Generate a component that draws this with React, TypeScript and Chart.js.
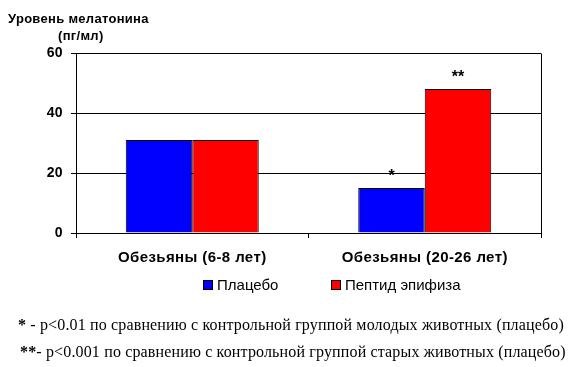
import React, { useEffect, useRef } from "react";
import { Chart, registerables } from "chart.js";

Chart.register(...registerables);

const categories = ["Обезьяны (6-8 лет)", "Обезьяны (20-26 лет)"];
const placebo = [31, 15];
const peptide = [31, 48];
const seriesNames = ["Плацебо", "Пептид эпифиза"];
const yTicks = [0, 20, 40, 60];
// significance marks: [datasetIndex, categoryIndex, text]
const marks: [number, number, string][] = [
  [0, 1, "*"],
  [1, 1, "**"],
];
const axisTitle = ["Уровень мелатонина", "(пг/мл)"];
const footnotes = [
  ["*", " - p<0.01 по сравнению с контрольной группой молодых животных (плацебо)"],
  ["**", "- p<0.001 по сравнению с контрольной группой старых животных (плацебо)"],
];

const BLUE = "#0000ff";
const RED = "#ff0000";
const SANS = "Arial, 'Liberation Sans', sans-serif";
const SERIF = "'Times New Roman', 'Liberation Serif', serif";

export default function App() {
  const ref = useRef<HTMLCanvasElement | null>(null);

  useEffect(() => {
    if (!ref.current) return;
    const markPlugin = {
      id: "marks",
      beforeDraw(chart: any) {
        chart.ctx.letterSpacing = "0.4px";
      },
      afterDatasetsDraw(chart: any) {
        const ctx = chart.ctx;
        const { top, right, bottom } = chart.chartArea;
        ctx.save();
        ctx.strokeStyle = "#000";
        ctx.lineWidth = 1;
        ctx.beginPath();
        ctx.moveTo(Math.round(right) + 0.5, Math.round(top) + 0.5);
        ctx.lineTo(Math.round(right) + 0.5, Math.round(bottom) + 0.5);
        ctx.stroke();
        ctx.fillStyle = "#000";
        ctx.letterSpacing = "0px";
        ctx.font = `bold 16px ${SANS}`;
        ctx.textAlign = "center";
        ctx.textBaseline = "alphabetic";
        for (const [ds, idx, txt] of marks) {
          const el = chart.getDatasetMeta(ds).data[idx];
          ctx.fillText(txt, el.x, el.y - 7);
        }
        ctx.restore();
      },
      afterDraw(chart: any) {
        chart.ctx.letterSpacing = "0px";
      },
    };
    const chart = new Chart(ref.current, {
      type: "bar",
      data: {
        labels: categories,
        datasets: [
          {
            label: seriesNames[0],
            data: placebo,
            backgroundColor: BLUE,
            borderColor: "#000",
            borderWidth: 1,
            categoryPercentage: 0.572,
            barPercentage: 1,
          },
          {
            label: seriesNames[1],
            data: peptide,
            backgroundColor: RED,
            borderColor: "#000",
            borderWidth: 1,
            categoryPercentage: 0.572,
            barPercentage: 1,
          },
        ],
      },
      options: {
        animation: false,
        responsive: false,
        maintainAspectRatio: false,
        layout: { padding: { top: 53, right: 39, left: 0, bottom: 100 } },
        plugins: { legend: { display: false }, tooltip: { enabled: false } },
        scales: {
          x: {
            afterFit: (s: any) => {
              s.height = 34;
            },
            grid: {
              offset: true,
              drawOnChartArea: false,
              color: "#000",
              tickLength: 5,
            },
            border: { color: "#000" },
            ticks: {
              color: "#000",
              padding: 11,
              font: { family: SANS, size: 15, weight: "bold" },
            },
          },
          y: {
            min: 0,
            max: 60,
            afterFit: (s: any) => {
              s.width = 76;
            },
            afterBuildTicks: (s: any) => {
              s.ticks = yTicks.map((v) => ({ value: v }));
            },
            grid: { color: "#000", tickLength: 5 },
            border: { color: "#000" },
            ticks: {
              color: "#000",
              padding: 8,
              font: { family: SANS, size: 14, weight: "bold" },
            },
          },
        },
      },
      plugins: [markPlugin],
    } as any);
    return () => chart.destroy();
  }, []);

  const abs = (x: number, y: number): React.CSSProperties => ({
    position: "absolute",
    left: x,
    top: y,
    whiteSpace: "nowrap",
  });

  return (
    <div style={{ position: "absolute", left: 0, top: 0, width: 580, height: 367, background: "#fff" }}>
      <canvas ref={ref} width={580} height={367} style={{ position: "absolute", left: 0, top: 0 }} />
      <div style={{ ...abs(8, 11), font: `bold 13px ${SANS}`, lineHeight: "16px", letterSpacing: "0.3px" }}>{axisTitle[0]}</div>
      <div style={{ ...abs(58, 28), font: `bold 13px ${SANS}`, lineHeight: "16px", letterSpacing: "0.3px" }}>{axisTitle[1]}</div>
      {seriesNames.map((n, i) => (
        <div key={n} style={{ ...abs(i === 0 ? 203 : 331, 276), font: `15px ${SANS}`, lineHeight: "18px", display: "flex", alignItems: "center" }}>
          <span style={{ display: "inline-block", width: 8, height: 8, border: "1px solid #000", background: i === 0 ? BLUE : RED, marginRight: 4 }} />
          {n}
        </div>
      ))}
      {footnotes.map((f, i) => (
        <div key={i} style={{ ...abs(i === 0 ? 18 : 20, i === 0 ? 315 : 342), font: `16px ${SERIF}`, lineHeight: "20px", letterSpacing: "0.15px" }}>
          <b>{f[0]}</b>
          {f[1]}
        </div>
      ))}
    </div>
  );
}
